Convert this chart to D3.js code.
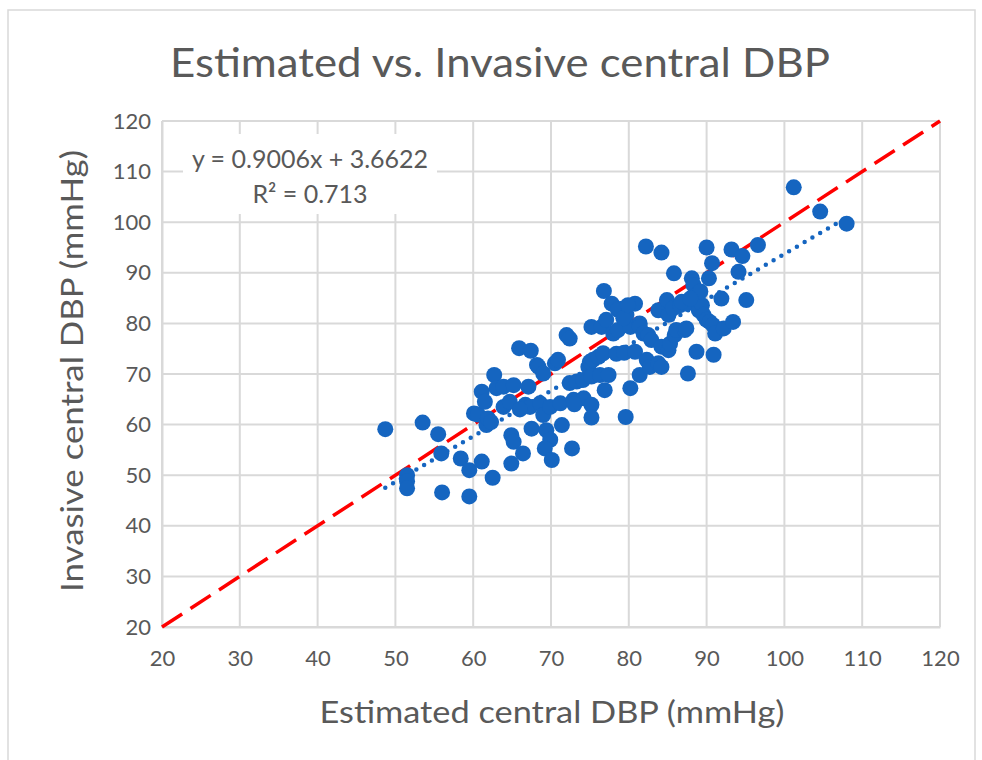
<!DOCTYPE html>
<html>
<head>
<meta charset="utf-8">
<script src="https://cdn.jsdelivr.net/npm/d3@7"></script>
<style>
  body { margin: 0; background: #fff; }
  text { font-family: Lato, "Open Sans", sans-serif; fill: #595959; }
</style>
</head>
<body>
<script>
// estimated central DBP (x) vs invasive central DBP (y)
const estimated = [
  48.7, 51.5, 51.5, 51.5, 53.5, 55.5, 55.9, 56.0, 58.4, 59.5, 59.5, 60.1, 60.6, 61.1, 61.5,
  61.7, 61.9, 61.1, 62.5, 62.7, 63.0, 63.9, 63.9, 64.7, 65.2, 64.9, 65.2, 64.9, 65.9, 66.4,
  66.7, 67.1, 67.3, 67.4, 67.5, 68.2, 68.4, 69.0, 68.6, 69.0, 69.4, 69.9, 69.2, 70.1, 69.9,
  70.5, 70.9, 71.2, 71.4, 72.0, 72.4, 72.4, 72.7, 72.9, 73.3, 74.1, 74.2, 74.8, 75.0, 75.2,
  75.2, 75.2, 75.2, 75.4, 76.1, 76.3, 76.5, 76.7, 76.8, 76.9, 77.1, 77.4, 77.8, 78.0, 78.4,
  78.6, 79.1, 79.4, 79.6, 79.7, 80.2, 80.2, 80.8, 80.8, 81.4, 81.4, 81.4, 81.9, 82.2, 82.3,
  82.5, 82.9, 82.7, 83.8, 83.8, 84.2, 84.2, 84.2, 84.9, 85.1, 85.1, 85.3, 85.7, 85.8, 85.9,
  86.1, 86.6, 87.2, 87.4, 87.4, 87.6, 88.1, 88.3, 88.7, 88.7, 89.0, 89.4, 89.2, 89.6, 90.0,
  90.0, 90.3, 90.4, 90.7, 90.8, 90.9, 91.1, 91.9, 92.2, 93.2, 93.4, 94.1, 94.6, 95.1, 96.6,
  101.2, 104.6, 108.0, 62.3, 73.0, 66.0, 78.6, 79.3, 79.9, 86.8, 87.9
];
const invasive = [
  59.1, 50.0, 48.8, 47.4, 60.4, 58.1, 54.3, 46.6, 53.3, 51.0, 45.8, 62.2, 62.0, 66.5, 64.5,
  59.9, 61.2, 52.7, 49.5, 69.8, 67.2, 63.5, 67.5, 64.5, 67.8, 57.9, 56.6, 52.3, 75.1, 54.3,
  63.9, 67.5, 63.5, 74.6, 59.2, 71.8, 71.4, 70.1, 64.2, 61.9, 58.9, 57.0, 55.3, 53.0, 63.5,
  72.1, 72.8, 64.2, 59.9, 77.7, 77.0, 68.2, 55.3, 64.9, 68.5, 68.8, 65.2, 71.4, 72.4, 69.5,
  63.9, 61.4, 79.3, 72.8, 73.4, 69.8, 79.3, 74.1, 86.4, 66.8, 80.7, 69.8, 83.9, 78.0, 74.0,
  78.7, 82.9, 74.2, 61.5, 81.7, 79.3, 67.2, 83.9, 74.4, 80.0, 79.3, 69.8, 78.0, 95.2, 72.8,
  77.7, 76.7, 71.4, 82.6, 72.1, 94.0, 75.4, 71.4, 84.6, 81.7, 74.7, 76.0, 83.0, 89.9, 77.7,
  78.7, 83.6, 78.7, 83.9, 79.0, 70.1, 88.9, 87.6, 85.6, 74.4, 82.6, 83.6, 86.3, 81.7, 95.0,
  80.7, 88.9, 80.3, 91.9, 79.7, 73.8, 78.0, 84.9, 79.0, 94.6, 80.3, 90.2, 93.3, 84.6, 95.5,
  106.9, 102.1, 99.7, 60.5, 64.0, 63.0, 82.7, 81.0, 83.6, 84.3, 84.9
];
const ticks = [20, 30, 40, 50, 60, 70, 80, 90, 100, 110, 120];
const slope = 0.9006, intercept = 3.6622;
const titleText = "Estimated vs. Invasive central DBP";
const xTitle = "Estimated central DBP (mmHg)";
const yTitle = "Invasive central DBP (mmHg)";
const eqLines = ["y = 0.9006x + 3.6622", "R² = 0.713"];

const width = 982, height = 760;
const svg = d3.select("body").append("svg").attr("width", width).attr("height", height);

svg.append("rect").attr("x", 8).attr("y", 10).attr("width", 967).attr("height", 770)
  .attr("fill", "#fff").attr("stroke", "#d9d9d9").attr("stroke-width", 1.5);

const x = d3.scaleLinear().domain([20, 120]).range([162, 940]);
const y = d3.scaleLinear().domain([20, 120]).range([627, 121]);

// grid
const grid = svg.append("g").attr("stroke", "#d9d9d9").attr("stroke-width", 2);
grid.selectAll(".v").data(ticks).join("line")
  .attr("x1", d => x(d)).attr("x2", d => x(d)).attr("y1", y(20)).attr("y2", y(120));
grid.selectAll(".h").data(ticks).join("line")
  .attr("y1", d => y(d)).attr("y2", d => y(d)).attr("x1", x(20)).attr("x2", x(120));

// axes labels
const xAxis = svg.append("g").attr("transform", `translate(0,${y(20)})`)
  .call(d3.axisBottom(x).tickValues(ticks).tickSize(0).tickPadding(23));
const yAxis = svg.append("g").attr("transform", `translate(${x(20)},0)`)
  .call(d3.axisLeft(y).tickValues(ticks).tickSize(0).tickPadding(11));
[xAxis, yAxis].forEach(a => {
  a.select(".domain").attr("stroke", "#d9d9d9").attr("stroke-width", 2);
  a.selectAll("text").style("font-size", "22px").attr("fill", "#595959");
});

// equation box (white, covers grid)
const lbl = svg.append("g");
lbl.append("rect").attr("x", 183).attr("y", 134).attr("width", 254).attr("height", 80).attr("fill", "#fff");
lbl.selectAll("text").data(eqLines).join("text")
  .attr("x", 310).attr("y", (d, i) => 168 + i * 35)
  .attr("text-anchor", "middle").style("font-size", "25px").text(d => d);

// identity line
svg.append("line")
  .attr("x1", x(20)).attr("y1", y(20)).attr("x2", x(120)).attr("y2", y(120))
  .attr("stroke", "#ff0000").attr("stroke-width", 3.5).attr("stroke-dasharray", "24 10");

// trendline
const xmin = d3.min(estimated), xmax = d3.max(estimated);
svg.append("line")
  .attr("x1", x(xmin)).attr("y1", y(slope * xmin + intercept))
  .attr("x2", x(xmax)).attr("y2", y(slope * xmax + intercept))
  .attr("stroke", "#1565c0").attr("stroke-width", 4.5)
  .attr("stroke-linecap", "round").attr("stroke-dasharray", "0 9");

// points
svg.append("g").selectAll("circle").data(estimated).join("circle")
  .attr("cx", d => x(d)).attr("cy", (d, i) => y(invasive[i]))
  .attr("r", 8).attr("fill", "#1565c0");

// titles
svg.append("text").attr("x", 500).attr("y", 77).attr("text-anchor", "middle")
  .style("font-size", "41px").attr("textLength", 660).attr("lengthAdjust", "spacingAndGlyphs")
  .text(titleText);
svg.append("text").attr("x", 552).attr("y", 723).attr("text-anchor", "middle")
  .style("font-size", "31px").attr("textLength", 465).attr("lengthAdjust", "spacingAndGlyphs")
  .text(xTitle);
svg.append("text").attr("transform", "translate(83,371) rotate(-90)").attr("text-anchor", "middle")
  .style("font-size", "31px").attr("textLength", 442).attr("lengthAdjust", "spacingAndGlyphs")
  .text(yTitle);
</script>
</body>
</html>
